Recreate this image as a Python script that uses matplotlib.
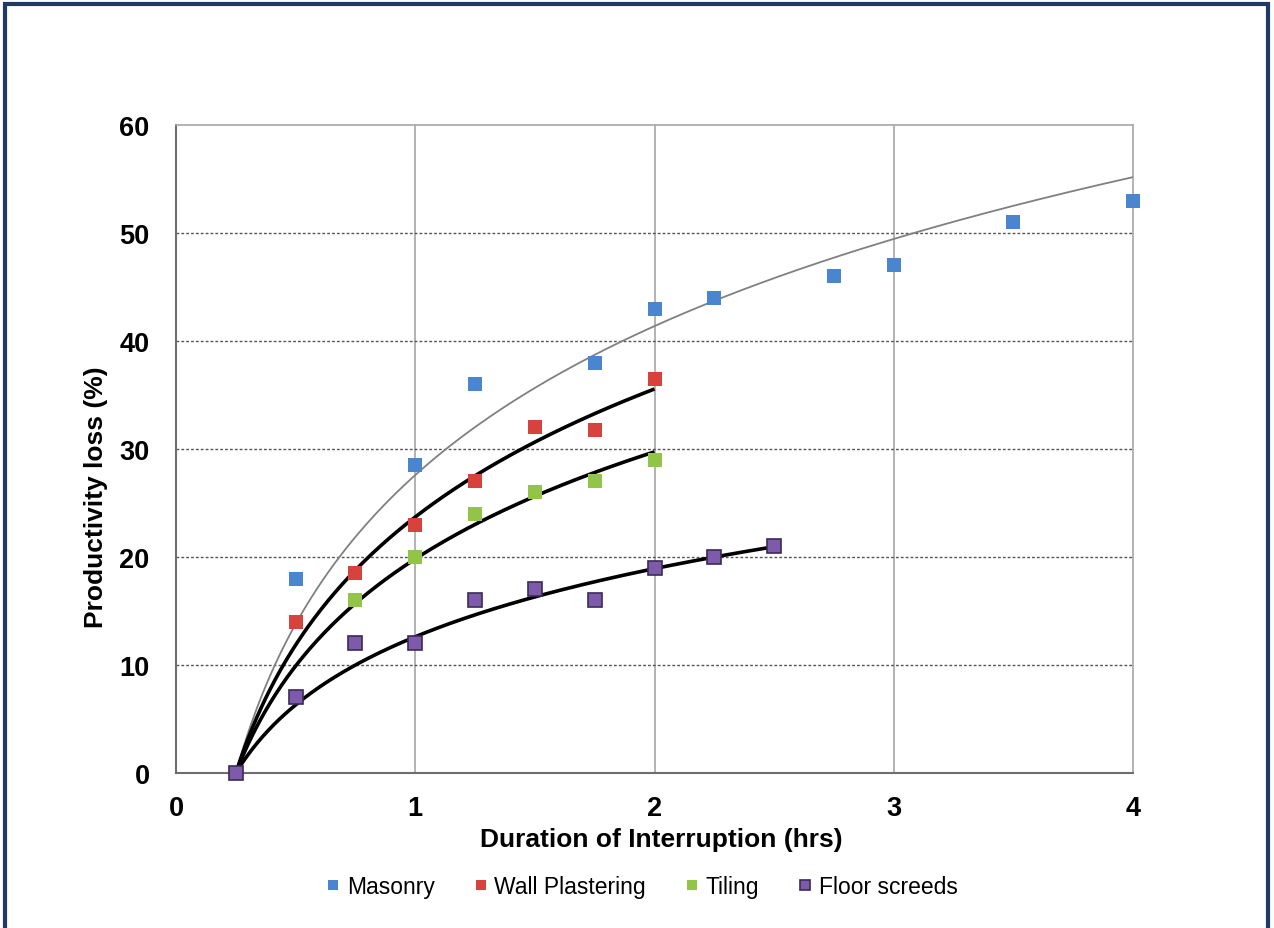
import numpy as np
import matplotlib
matplotlib.use("Agg")
import matplotlib.pyplot as plt
from matplotlib.patches import Rectangle

plt.rcParams['font.family'] = ['Liberation Sans', 'DejaVu Sans']

# ---- data ----
series_names = ["Masonry", "Wall Plastering", "Tiling", "Floor screeds"]
masonry_x = [0.25, 0.5, 1.0, 1.25, 1.75, 2.0, 2.25, 2.75, 3.0, 3.5, 4.0]
masonry_y = [0, 18, 28.5, 36, 38, 43, 44, 46, 47, 51, 53]
plaster_x = [0.5, 0.75, 1.0, 1.25, 1.5, 1.75, 2.0]
plaster_y = [14, 18.5, 23, 27, 32, 31.8, 36.5]
tiling_x = [0.75, 1.0, 1.25, 1.5, 1.75, 2.0]
tiling_y = [16, 20, 24, 26, 27, 29]
floor_x = [0.25, 0.5, 0.75, 1.0, 1.25, 1.5, 1.75, 2.0, 2.25, 2.5]
floor_y = [0, 7, 12, 12, 16, 17, 16, 19, 20, 21]

# logarithmic trendlines y = a * ln(x / x0)
trend_a = [19.9, 17.1, 14.3, 9.1]
trend_x0 = [0.25, 0.25, 0.25, 0.25]
trend_xmax = [4.0, 2.0, 2.0, 2.5]

x_ticks = [0, 1, 2, 3, 4]
y_ticks = [0, 10, 20, 30, 40, 50, 60]

colors = ["#4A86CF", "#D7423D", "#92C447", "#7E5AAA"]
edges = ["none", "none", "none", "#3B2A55"]

fig = plt.figure(figsize=(12.74, 9.29), dpi=100)
fig.patch.set_facecolor("white")
ax = fig.add_axes([176/1274, 1-774/929, (1133-176)/1274, (774-126)/929])

# trendlines
trend_styles = [dict(color="#808080", lw=1.3), dict(color="black", lw=2.6),
                dict(color="black", lw=2.6), dict(color="black", lw=2.6)]
for a, x0, xm, st in zip(trend_a, trend_x0, trend_xmax, trend_styles):
    xs = np.linspace(x0, xm, 300)
    ax.plot(xs, a*np.log(xs/x0), zorder=3, solid_capstyle='butt', **st)

all_x = [masonry_x, plaster_x, tiling_x, floor_x]
all_y = [masonry_y, plaster_y, tiling_y, floor_y]
for name, xs, ys, c, e in zip(series_names, all_x, all_y, colors, edges):
    ax.plot(xs, ys, linestyle="none", marker="s", markersize=9.5, color=c,
            markeredgecolor=(e if e != "none" else c), markeredgewidth=(1.2 if e != "none" else 0),
            label=name, zorder=4, clip_on=False)

ax.set_xlim(0, 4)
ax.set_ylim(0, 60)
ax.set_xticks(x_ticks)
ax.set_yticks(y_ticks)
ax.tick_params(axis='x', length=0, labelsize=19.5, pad=16)
ax.tick_params(axis='y', length=0, labelsize=19.5, pad=19)
for lab in ax.get_xticklabels() + ax.get_yticklabels():
    lab.set_fontweight('bold')

for xv in [1, 2, 3]:
    ax.axvline(xv, color="#A6A6A6", lw=1.2, zorder=1)
for yv in [10, 20, 30, 40, 50]:
    ax.axhline(yv, color="#555555", lw=1.0, ls=(0, (2, 1.5)), zorder=1)

ax.spines['left'].set_color("#6E6E6E")
ax.spines['bottom'].set_color("#6E6E6E")
ax.spines['left'].set_linewidth(1.5)
ax.spines['bottom'].set_linewidth(1.5)
ax.spines['top'].set_color("#A6A6A6")
ax.spines['right'].set_color("#A6A6A6")
ax.spines['top'].set_linewidth(1.2)
ax.spines['right'].set_linewidth(1.2)

ax.set_xlabel("Duration of Interruption (hrs)", fontsize=19, fontweight='bold')
ax.set_ylabel("Productivity loss (%)", fontsize=19, fontweight='bold')
ax.xaxis.set_label_coords((661-176)/957, (774-840)/648, transform=ax.transAxes)
ax.xaxis.label.set_va('center')
ax.yaxis.set_label_coords((96-176)/957, (774-497)/648, transform=ax.transAxes)
ax.yaxis.label.set_va('center')

handles, labels = ax.get_legend_handles_labels()
leg = fig.legend(handles, labels, loc='center', bbox_to_anchor=(642/1274, 1-888/929), ncol=4,
                 frameon=False, fontsize=16.5, markerscale=0.75, handlelength=0.6,
                 handletextpad=0.3, columnspacing=1.7)

# outer frame
fig.patches.append(Rectangle((5/1274, -0.05), (1268-5)/1274, 1.05-5/929, transform=fig.transFigure,
                             fill=False, edgecolor="#1F3A64", lw=3, zorder=0))

fig.savefig("out.png", dpi=100, facecolor="white")
